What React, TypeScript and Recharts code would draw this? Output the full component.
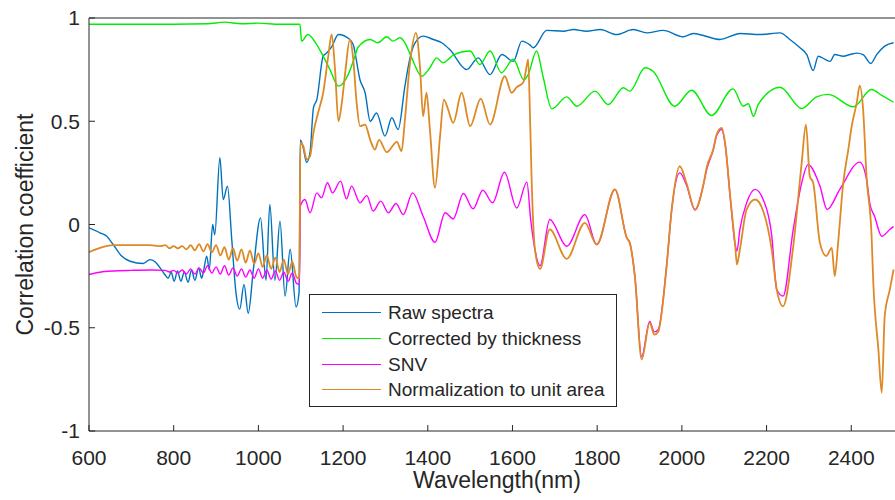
import React from 'react';
import { LineChart, Line, XAxis, YAxis, Legend } from 'recharts';

type Pt = [number, number];

// wavelength (nm), correlation coefficient
const X_TICKS = [600, 800, 1000, 1200, 1400, 1600, 1800, 2000, 2200, 2400];
const Y_TICKS = [-1, -0.5, 0, 0.5, 1];

const RAW_SPECTRA: Pt[] = [
  [600, -0.016], [626, -0.04], [642, -0.057], [657, -0.097], [677, -0.153], [697, -0.178], [728, -0.189],
  [744, -0.17], [756, -0.18], [768, -0.21], [779, -0.242], [787, -0.26], [794, -0.23], [801, -0.275],
  [809, -0.225], [817, -0.275], [825, -0.23], [834, -0.28], [842, -0.22], [850, -0.27], [859, -0.21],
  [866, -0.26], [871, -0.22], [878, -0.153], [884, -0.22], [892, 0], [897, -0.05], [909, 0.323],
  [917, 0.121], [927, 0.186], [937, -0.07], [947, -0.33], [956, -0.41], [966, -0.29], [976, -0.43],
  [988, -0.22], [1005, 0.032], [1018, -0.27], [1027, 0.097], [1039, -0.27], [1051, 0.016], [1063, -0.347],
  [1075, -0.12], [1089, -0.4], [1096, -0.33], [1099, 0.41], [1106, 0.37], [1114, 0.3], [1122, 0.35],
  [1130, 0.565], [1138, 0.605], [1153, 0.815], [1161, 0.83], [1173, 0.86], [1189, 0.92], [1216, 0.896],
  [1224, 0.87], [1240, 0.7], [1252, 0.638], [1264, 0.5], [1279, 0.54], [1299, 0.428], [1315, 0.517],
  [1330, 0.46], [1346, 0.67], [1358, 0.807], [1370, 0.88], [1389, 0.912], [1413, 0.896], [1433, 0.88],
  [1452, 0.847], [1492, 0.75], [1519, 0.807], [1547, 0.726], [1575, 0.823], [1602, 0.79], [1622, 0.888],
  [1641, 0.87], [1649, 0.856], [1681, 0.94], [1720, 0.936], [1744, 0.944], [1775, 0.936], [1807, 0.944],
  [1846, 0.92], [1885, 0.944], [1917, 0.928], [1956, 0.94], [2003, 0.909], [2027, 0.925], [2051, 0.915],
  [2090, 0.896], [2138, 0.925], [2184, 0.92], [2232, 0.928], [2255, 0.896], [2279, 0.856], [2295, 0.823],
  [2310, 0.746], [2322, 0.815], [2338, 0.8], [2350, 0.79], [2361, 0.823], [2381, 0.815], [2397, 0.823],
  [2413, 0.83], [2428, 0.823], [2446, 0.78], [2460, 0.823], [2479, 0.864], [2500, 0.88],
];

const THICKNESS: Pt[] = [
  [600, 0.97], [700, 0.97], [800, 0.97], [880, 0.972], [920, 0.98], [960, 0.972], [1000, 0.975],
  [1050, 0.97], [1098, 0.97], [1102, 0.888], [1117, 0.92], [1135, 0.88], [1153, 0.815], [1169, 0.75],
  [1189, 0.67], [1212, 0.726], [1228, 0.815], [1235, 0.857], [1264, 0.896], [1282, 0.88], [1303, 0.909],
  [1318, 0.888], [1334, 0.904], [1346, 0.88], [1362, 0.807], [1386, 0.718], [1405, 0.759], [1421, 0.807],
  [1436, 0.783], [1448, 0.799], [1460, 0.82], [1500, 0.84], [1523, 0.775], [1547, 0.84], [1574, 0.735],
  [1602, 0.8], [1627, 0.7], [1637, 0.726], [1657, 0.84], [1672, 0.718], [1693, 0.56], [1728, 0.618],
  [1752, 0.573], [1795, 0.646], [1826, 0.581], [1862, 0.662], [1877, 0.646], [1913, 0.759], [1932, 0.742],
  [1983, 0.573], [2023, 0.65], [2070, 0.528], [2121, 0.657], [2145, 0.573], [2157, 0.585], [2169, 0.524],
  [2180, 0.58], [2232, 0.665], [2283, 0.562], [2318, 0.618], [2346, 0.63], [2405, 0.57], [2448, 0.654],
  [2472, 0.625], [2500, 0.592],
];

const SNV: Pt[] = [
  [600, -0.242], [626, -0.231], [657, -0.225], [700, -0.222], [750, -0.22], [780, -0.222], [790, -0.23],
  [800, -0.222], [810, -0.235], [820, -0.22], [830, -0.24], [840, -0.215], [850, -0.24], [860, -0.21],
  [870, -0.235], [880, -0.2], [890, -0.235], [900, -0.205], [910, -0.24], [920, -0.2], [930, -0.245],
  [940, -0.21], [950, -0.25], [960, -0.215], [970, -0.255], [980, -0.22], [990, -0.26], [1000, -0.215],
  [1010, -0.26], [1020, -0.22], [1030, -0.265], [1040, -0.225], [1050, -0.27], [1060, -0.23], [1070, -0.275],
  [1080, -0.235], [1090, -0.285], [1097, -0.29], [1099, 0.089], [1110, 0.121], [1122, 0.057], [1138, 0.153],
  [1149, 0.129], [1163, 0.202], [1175, 0.153], [1194, 0.21], [1208, 0.124], [1220, 0.186], [1240, 0.105],
  [1256, 0.14], [1271, 0.065], [1289, 0.113], [1307, 0.057], [1325, 0.102], [1342, 0.048], [1364, 0.153],
  [1389, 0.04], [1417, -0.086], [1441, 0.057], [1460, 0.027], [1484, 0.15], [1507, 0.076], [1530, 0.166],
  [1553, 0.105], [1581, 0.253], [1610, 0.08], [1634, 0.205], [1643, 0.024], [1653, -0.121], [1665, -0.2],
  [1688, 0.024], [1728, -0.105], [1771, 0.048], [1799, -0.097], [1842, 0.17], [1870, -0.065], [1877, -0.089],
  [1889, -0.25], [1905, -0.64], [1924, -0.47], [1935, -0.52], [1944, -0.51], [1964, -0.2], [1976, 0.073],
  [1995, 0.25], [2011, 0.19], [2031, 0.07], [2051, 0.194], [2059, 0.27], [2074, 0.36], [2082, 0.43],
  [2094, 0.46], [2102, 0.39], [2114, 0.137], [2126, -0.1], [2130, -0.129], [2137, -0.024], [2153, 0.105],
  [2173, 0.17], [2192, 0.121], [2212, -0.05], [2224, -0.315], [2239, -0.347], [2263, -0.024], [2283, 0.202],
  [2298, 0.29], [2326, 0.186], [2343, 0.073], [2373, 0.17], [2420, 0.302], [2436, 0.22], [2444, 0.1],
  [2455, 0.04], [2472, -0.057], [2491, -0.024], [2500, -0.01],
];

const UNIT_AREA: Pt[] = [
  [600, -0.134], [626, -0.113], [657, -0.1], [700, -0.1], [744, -0.1], [768, -0.105], [780, -0.1],
  [790, -0.115], [800, -0.105], [810, -0.115], [820, -0.105], [830, -0.12], [840, -0.1], [850, -0.125],
  [860, -0.095], [870, -0.13], [880, -0.095], [890, -0.135], [900, -0.1], [910, -0.15], [920, -0.11],
  [930, -0.17], [940, -0.115], [950, -0.175], [960, -0.12], [970, -0.185], [980, -0.125], [990, -0.19],
  [1000, -0.14], [1010, -0.205], [1020, -0.15], [1030, -0.215], [1040, -0.16], [1050, -0.23], [1060, -0.17],
  [1070, -0.24], [1080, -0.18], [1090, -0.255], [1097, -0.26], [1099, 0.396], [1106, 0.38], [1114, 0.315],
  [1122, 0.33], [1130, 0.444], [1141, 0.541], [1153, 0.638], [1165, 0.815], [1173, 0.92], [1181, 0.75],
  [1189, 0.5], [1197, 0.589], [1205, 0.735], [1216, 0.896], [1224, 0.8], [1232, 0.589], [1240, 0.476],
  [1252, 0.484], [1264, 0.41], [1275, 0.363], [1285, 0.41], [1303, 0.35], [1327, 0.4], [1338, 0.355],
  [1346, 0.508], [1358, 0.783], [1372, 0.928], [1382, 0.75], [1389, 0.524], [1397, 0.638], [1405, 0.46],
  [1417, 0.178], [1429, 0.428], [1438, 0.605], [1448, 0.557], [1460, 0.492], [1480, 0.638], [1500, 0.476],
  [1525, 0.609], [1547, 0.484], [1582, 0.718], [1598, 0.638], [1610, 0.665], [1625, 0.686], [1635, 0.783],
  [1637, 0.8], [1641, 0.557], [1645, 0.234], [1653, -0.12], [1665, -0.215], [1688, -0.024], [1728, -0.166],
  [1771, 0.008], [1799, -0.097], [1842, 0.17], [1870, -0.065], [1877, -0.089], [1889, -0.25], [1905, -0.654],
  [1924, -0.476], [1935, -0.533], [1944, -0.52], [1964, -0.2], [1976, 0.073], [1995, 0.282], [2011, 0.2],
  [2031, 0.073], [2051, 0.194], [2059, 0.28], [2074, 0.363], [2082, 0.436], [2094, 0.468], [2102, 0.396],
  [2114, 0.137], [2126, -0.105], [2130, -0.194], [2137, -0.121], [2153, 0.073], [2173, 0.121], [2192, 0.065],
  [2212, -0.12], [2224, -0.315], [2239, -0.396], [2263, -0.105], [2283, 0.3], [2293, 0.484], [2302, 0.234],
  [2310, 0.202], [2326, -0.089], [2341, -0.153], [2354, -0.113], [2361, -0.25], [2369, -0.088], [2381, 0.2],
  [2393, 0.363], [2401, 0.476], [2413, 0.59], [2420, 0.673], [2428, 0.557], [2436, 0.234], [2448, -0.057],
  [2452, -0.28], [2464, -0.605], [2472, -0.815], [2479, -0.444], [2491, -0.315], [2500, -0.218],
];

const SERIES = [
  { name: 'Raw spectra', color: '#0072bd', width: 1.4, points: RAW_SPECTRA },
  { name: 'Corrected by thickness', color: '#00ee00', width: 1.4, points: THICKNESS },
  { name: 'SNV', color: '#ff00ff', width: 1.4, points: SNV },
  { name: 'Normalization to unit area', color: '#dd8a26', width: 1.8, points: UNIT_AREA },
];

const FONT = '"Liberation Sans", Arial, sans-serif';
const INK = '#262626';

const toRows = (pts: Pt[]) => pts.map(([nm, r]) => ({ nm, r }));

// x tick labels sit under the frame (ticks point inward, so place the text by hand)
const XTick = (props: any) => (
  <text x={props.x} y={465} textAnchor="middle" fill={INK} fontSize={21} fontFamily={FONT}>
    {props.payload.value}
  </text>
);

const LegendBox = () => (
  <div
    style={{
      width: 308,
      height: 113,
      boxSizing: 'border-box',
      border: `1px solid ${INK}`,
      background: '#fff',
      paddingTop: 5,
      fontFamily: FONT,
      fontSize: 19,
      color: INK,
    }}
  >
    {SERIES.map((s) => (
      <div key={s.name} style={{ display: 'flex', alignItems: 'center', height: 25.7 }}>
        <span style={{ marginLeft: 12, width: 59, borderTop: `1.4px solid ${s.color}` }} />
        <span style={{ marginLeft: 7, lineHeight: 1, whiteSpace: 'nowrap' }}>{s.name}</span>
      </div>
    ))}
  </div>
);

export default function App() {
  const tickStyle = { fill: INK, fontSize: 21, fontFamily: FONT };
  return (
    <div style={{ position: 'absolute', left: 0, top: 0, width: 895, height: 500, overflow: 'hidden', background: '#fff' }}>
      <LineChart width={898} height={500} margin={{ top: 17, right: 0, bottom: 0, left: 0 }}>
        <XAxis
          type="number"
          dataKey="nm"
          domain={[600, 2508]}
          ticks={X_TICKS}
          interval={0}
          allowDataOverflow
          height={69}
          tickSize={-6}
          stroke={INK}
          tick={<XTick />}
          label={{
            value: 'Wavelength(nm)',
            position: 'insideBottom',
            offset: 12,
            dx: 4,
            style: { fill: INK, fontSize: 23, fontFamily: FONT, textAnchor: 'middle' },
          }}
        />
        <XAxis
          xAxisId="top"
          orientation="top"
          type="number"
          dataKey="nm"
          domain={[600, 2508]}
          ticks={X_TICKS}
          interval={0}
          allowDataOverflow
          height={1}
          tick={false}
          tickSize={-6}
          stroke={INK}
        />
        <YAxis
          type="number"
          domain={[-1, 1]}
          ticks={Y_TICKS}
          interval={0}
          allowDataOverflow
          width={89}
          tickSize={-6}
          tickMargin={15}
          stroke={INK}
          tick={tickStyle}
          label={{
            value: 'Correlation coefficient',
            angle: -90,
            position: 'insideLeft',
            offset: 25,
            style: { fill: INK, fontSize: 23, fontFamily: FONT, textAnchor: 'middle' },
          }}
        />
        <YAxis
          yAxisId="right"
          orientation="right"
          type="number"
          domain={[-1, 1]}
          ticks={Y_TICKS}
          interval={0}
          allowDataOverflow
          width={1}
          tick={false}
          tickSize={-6}
          stroke={INK}
        />
        {SERIES.map((s) => (
          <Line
            key={s.name}
            name={s.name}
            data={toRows(s.points)}
            dataKey="r"
            type="monotone"
            dot={false}
            stroke={s.color}
            strokeWidth={s.width}
            isAnimationActive={false}
          />
        ))}
        <Legend
          layout="vertical"
          align="center"
          verticalAlign="middle"
          content={() => <LegendBox />}
          wrapperStyle={{ left: 309, top: 294, width: 308, height: 113 }}
        />
      </LineChart>
    </div>
  );
}
